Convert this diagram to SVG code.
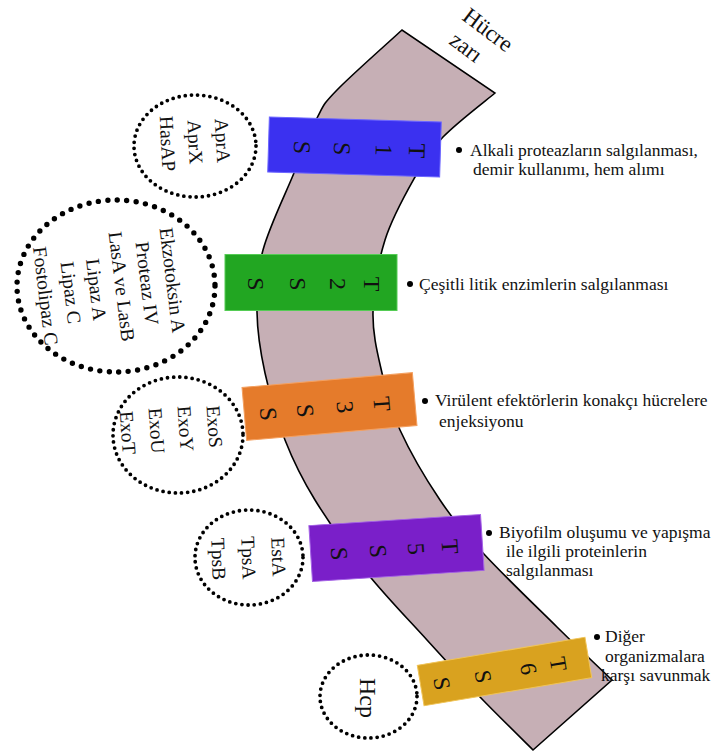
<svg xmlns="http://www.w3.org/2000/svg" width="722" height="754" viewBox="0 0 722 754">
<style>
  .serif { font-family: "Liberation Serif", "Times New Roman", serif; fill: #111; }
  .circ { fill: #fff; stroke: #000; stroke-linecap: round; stroke-dasharray: 0 6.2; stroke-width: 3.8; }
  .circ-big { fill: #fff; stroke: #000; stroke-linecap: round; stroke-dasharray: 0 9.5; stroke-width: 5.4; }
  .ctext { font-size: 19.5px; }
  .btext { font-size: 24px; }
  .label { font-size: 17.5px; }
  .membrane { fill: #c6afb5; stroke: #000; stroke-width: 1.6; stroke-linejoin: miter; }
</style>
<rect width="722" height="754" fill="#fff"/>

<g id="membrane">
  <path class="membrane" d="M402,30 C391.2,40 351.2,75.3 337,90 C322.8,104.7 324.2,104.2 317,118 C309.8,131.8 303,151 294,173 C285,195 269.2,226.8 263,250 C256.8,273.2 256.7,291.5 257,312 C257.3,332.5 260.3,351.7 265,373 C269.7,394.3 276.7,418.8 285,440 C293.3,461.2 301.3,477.8 315,500 C328.7,522.2 348.3,549.7 367,573 C385.7,596.3 408.2,619.3 427,640 C445.8,660.7 462.3,678.7 480,697 C497.7,715.3 524.2,741.2 533,750 L612,680 C602.8,671.2 578.5,648.2 557,627 C535.5,605.8 502.5,574.2 483,553 C463.5,531.8 453.8,520.5 440,500 C426.2,479.5 409.7,451.2 400,430 C390.3,408.8 386.5,392.7 382,373 C377.5,353.3 372.5,334.2 373,312 C373.5,289.8 378,262.5 385,240 C392,217.5 405.3,194.2 415,177 C424.7,159.8 429.7,151 443,137 C456.3,123 486.3,100.3 495,93 Z"/>
  <text class="serif" font-size="23" transform="translate(461,19) rotate(37)"><tspan x="0" y="0">Hücre</tspan><tspan x="4" y="27">zarı</tspan></text>
</g>

<g id="t1ss">
  <g transform="rotate(1.7 354.5 147)">
    <rect x="268.5" y="119.5" width="172" height="55" fill="#3b31f0" stroke="#6c66ff" stroke-width="1"/>
    <text class="serif btext" text-anchor="middle" transform="translate(409,149) rotate(90)"><tspan x="0" y="0">T</tspan><tspan x="0" y="33">1</tspan><tspan x="0" y="75">S</tspan><tspan x="0" y="115">S</tspan></text>
  </g>
</g>
<g id="t2ss">
  <rect x="225" y="254.5" width="172" height="56" fill="#22a622" stroke="#55cc55" stroke-width="1"/>
  <text class="serif btext" text-anchor="middle" transform="translate(364,284) rotate(90)"><tspan x="0" y="0">T</tspan><tspan x="0" y="34">2</tspan><tspan x="0" y="74">S</tspan><tspan x="0" y="116">S</tspan></text>
</g>
<g id="t3ss">
  <g transform="rotate(-5 329.5 406.5)">
    <rect x="244" y="380" width="171" height="53" fill="#e57b2b" stroke="#f4a060" stroke-width="1"/>
    <text class="serif btext" text-anchor="middle" transform="translate(374,408.5) rotate(90)"><tspan x="0" y="0">T</tspan><tspan x="0" y="37">3</tspan><tspan x="0" y="77">S</tspan><tspan x="0" y="114">S</tspan></text>
  </g>
</g>
<g id="t5ss">
  <g transform="rotate(-3.7 396.5 548)">
    <rect x="310.5" y="520" width="172" height="56" fill="#7a1fc9" stroke="#a564e6" stroke-width="1"/>
    <text class="serif btext" text-anchor="middle" transform="translate(442,550) rotate(90)"><tspan x="0" y="0">T</tspan><tspan x="0" y="34">5</tspan><tspan x="0" y="72">S</tspan><tspan x="0" y="111">S</tspan></text>
  </g>
</g>
<g id="t6ss">
  <g transform="rotate(-9.5 504.5 671.5)">
    <rect x="419.5" y="651" width="170" height="41" fill="#d9a21f" stroke="#f0c458" stroke-width="1"/>
    <text class="serif" font-size="23" text-anchor="middle" transform="translate(551,673) rotate(90)"><tspan x="0" y="0">T</tspan><tspan x="0" y="30">6</tspan><tspan x="0" y="76">S</tspan><tspan x="0" y="118">S</tspan></text>
  </g>
</g>

<g id="substrates-t1ss">
  <ellipse class="circ" cx="195" cy="146" rx="61" ry="51"/>
  <text class="serif ctext" text-anchor="middle" transform="translate(216,141) rotate(87)"><tspan x="0" y="0">AprA</tspan><tspan x="0" y="27.5">AprX</tspan><tspan x="0" y="55">HasAP</tspan></text>
</g>
<g id="substrates-t2ss">
  <ellipse class="circ-big" cx="116" cy="286" rx="99" ry="86"/>
  <text class="serif ctext" text-anchor="middle" transform="translate(166,281) rotate(83)"><tspan x="0" y="0">Ekzotoksin A</tspan><tspan x="0" y="25.6">Proteaz IV</tspan><tspan x="0" y="51.2">LasA ve LasB</tspan><tspan x="0" y="76.8">Lipaz A</tspan><tspan x="0" y="102.4">Lipaz C</tspan><tspan x="0" y="128">Fostolipaz C</tspan></text>
</g>
<g id="substrates-t3ss">
  <ellipse class="circ" cx="178" cy="435" rx="65" ry="58"/>
  <text class="serif ctext" text-anchor="middle" transform="translate(208,427) rotate(86)"><tspan x="0" y="0">ExoS</tspan><tspan x="0" y="29">ExoY</tspan><tspan x="0" y="58">ExoU</tspan><tspan x="0" y="87">ExoT</tspan></text>
</g>
<g id="substrates-t5ss">
  <ellipse class="circ" cx="249" cy="557.5" rx="54" ry="47.5"/>
  <text class="serif ctext" text-anchor="middle" transform="translate(272,557) rotate(88)"><tspan x="0" y="0">EstA</tspan><tspan x="0" y="30">TpsA</tspan><tspan x="0" y="60">TpsB</tspan></text>
</g>
<g id="substrates-t6ss">
  <ellipse class="circ" cx="368.5" cy="696.5" rx="48.5" ry="41.5"/>
  <text class="serif" font-size="24" text-anchor="middle" transform="translate(360,698) rotate(90)">Hcp</text>
</g>

<g id="functions">
  <g id="f1">
    <circle cx="459" cy="150" r="3"/>
    <text class="serif label"><tspan x="470" y="156">Alkali proteazların salgılanması,</tspan><tspan x="473" y="175">demir kullanımı, hem alımı</tspan></text>
  </g>
  <g id="f2">
    <circle cx="410" cy="284" r="3"/>
    <text class="serif label" x="419" y="289.5">Çeşitli litik enzimlerin salgılanması</text>
  </g>
  <g id="f3">
    <circle cx="425" cy="401" r="3"/>
    <text class="serif label"><tspan x="435" y="406">Virülent efektörlerin konakçı hücrelere</tspan><tspan x="439" y="427">enjeksiyonu</tspan></text>
  </g>
  <g id="f4">
    <circle cx="489" cy="533" r="3"/>
    <text class="serif label"><tspan x="499" y="538">Biyofilm oluşumu ve yapışma</tspan><tspan x="506" y="557">ile ilgili proteinlerin</tspan><tspan x="506" y="576">salgılanması</tspan></text>
  </g>
  <g id="f5">
    <circle cx="597" cy="637" r="3"/>
    <text class="serif label"><tspan x="605" y="642">Diğer</tspan><tspan x="605" y="662">organizmalara</tspan><tspan x="601" y="681">karşı savunmak</tspan></text>
  </g>
</g>
</svg>
